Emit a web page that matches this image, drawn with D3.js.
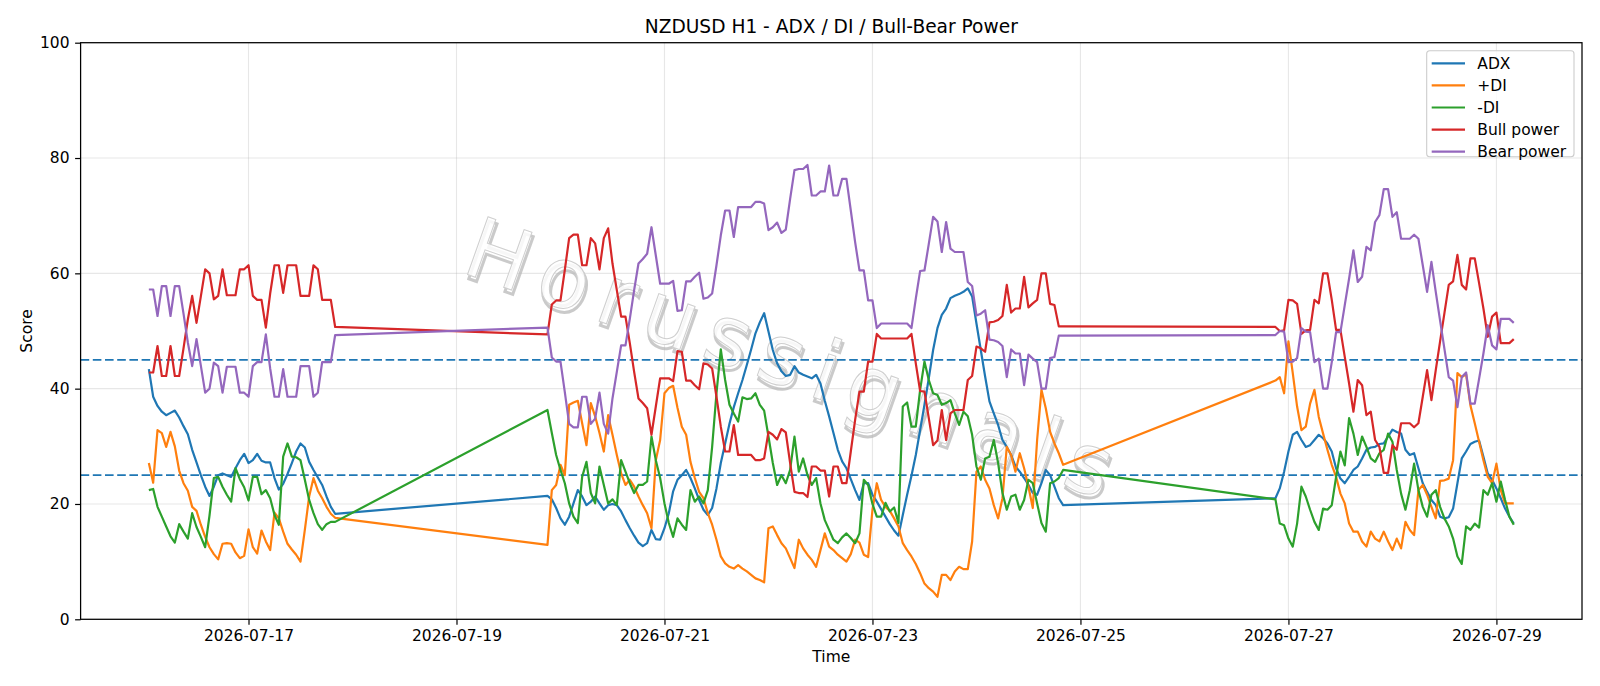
<!DOCTYPE html>
<html>
<head>
<meta charset="utf-8">
<title>NZDUSD H1 - ADX / DI / Bull-Bear Power</title>
<script src="https://cdn.jsdelivr.net/npm/d3@7"></script>
<style>
  body { margin: 0; background: #fff; }
  svg text { font-family: "DejaVu Sans", sans-serif; fill: #000; }
</style>
</head>
<body>
<svg id="chart" width="1600" height="686"></svg>
<script>
// trading sessions: first hourly bar and number of bars (weekends are skipped)
const sessions = [
  ["2026-07-16T01:00:00Z", 44],
  ["2026-07-19T21:00:00Z", 120],
  ["2026-07-26T21:00:00Z", 56]
];

const adx = [
  43.4, 38.6, 37.0, 36.0, 35.4, 35.8, 36.2, 35.0, 33.5, 32.1, 29.4, 27.2, 25.0, 23.0, 21.4, 23.0, 25.0, 25.3, 25.0, 24.7, 26.2, 27.6,
  28.7, 27.1, 27.6, 28.7, 27.5, 27.2, 27.2, 24.5, 22.5, 23.5, 25.2, 27.1, 29.1, 30.5, 29.8, 27.3, 25.9, 24.6, 23.3, 21.3, 19.5, 18.3,
  21.4, 20.8, 19.3, 17.5, 16.4, 17.8, 20.1, 22.4, 21.3, 19.8, 20.4, 21.3, 20.1, 19.0, 19.8, 20.0, 19.8, 18.7, 17.2, 15.8, 14.5, 13.3,
  12.7, 13.2, 15.5, 13.9, 13.8, 15.8, 18.4, 22.2, 24.2, 25.0, 25.9, 24.5, 22.7, 20.7, 19.0, 18.1, 19.3, 22.7, 27.1, 30.5, 33.9, 36.8,
  39.2, 41.5, 44.1, 46.8, 49.6, 51.5, 53.1, 49.9, 46.7, 44.4, 43.0, 42.2, 42.4, 43.9, 42.8, 42.4, 42.1, 41.8, 42.4, 40.9, 37.9, 35.2,
  32.3, 29.4, 27.4, 26.2, 24.3, 22.4, 20.7, 23.6, 23.6, 21.6, 20.4, 19.1, 17.8, 16.5, 15.4, 14.5, 18.1, 21.6, 24.9, 28.5, 32.8, 37.2,
  41.8, 46.7, 50.5, 52.8, 53.9, 55.7, 56.1, 56.4, 56.8, 57.4, 56.0, 51.3, 46.7, 42.1, 37.8, 35.7, 33.7, 31.1, 29.9, 28.5, 26.5, 25.6,
  24.5, 23.3, 21.9, 21.6, 23.6, 25.9, 25.0, 23.0, 21.0, 19.8,
  21.0, 22.7, 25.6, 29.1, 32.0, 32.5, 31.1, 29.9, 30.2, 31.1, 32.0, 31.4, 30.5, 29.1, 26.2, 24.4, 23.6, 24.7, 25.9, 26.5, 27.9, 29.4,
  29.8, 29.9, 30.4, 30.5, 31.7, 32.9, 32.5, 32.2, 29.4, 28.5, 28.8, 26.2, 23.6, 22.1, 20.7, 19.8, 17.8, 17.5, 17.7, 19.2, 23.6, 27.9,
  29.1, 30.4, 30.8, 31.0, 28.2, 25.3, 24.2, 22.7, 21.0, 19.2, 17.8, 16.6
];

const plusDI = [
  27.1, 23.7, 32.8, 32.3, 29.9, 32.5, 30.0, 25.8, 23.6, 22.3, 19.5, 18.8, 16.4, 14.3, 12.5, 11.3, 10.4, 13.1, 13.2, 13.1, 11.6, 10.6,
  11.0, 15.6, 12.5, 11.4, 15.4, 13.5, 12.0, 18.5, 17.5, 15.2, 13.1, 12.1, 11.2, 10.0, 15.5, 21.3, 24.5, 22.3, 21.0, 19.5, 18.3, 17.6,
  12.9, 22.4, 23.3, 26.8, 25.0, 37.2, 37.6, 37.9, 34.0, 30.2, 37.5, 35.2, 32.3, 29.1, 35.4, 32.0, 28.5, 25.3, 23.3, 24.2, 23.0, 21.3,
  19.8, 18.4, 15.8, 27.6, 31.1, 39.2, 40.1, 40.5, 36.7, 33.4, 32.0, 27.3, 24.5, 22.1, 21.0, 18.4, 16.4, 13.8, 10.9, 9.7, 9.1, 8.8,
  9.4, 8.8, 8.3, 7.7, 7.1, 6.8, 6.4, 15.8, 16.1, 14.6, 13.2, 12.3, 10.6, 8.9, 13.8, 12.3, 11.2, 10.3, 9.1, 12.0, 14.9, 12.6,
  12.0, 11.2, 10.6, 10.0, 11.3, 13.8, 13.3, 11.2, 10.8, 19.0, 23.6, 20.7, 19.5, 18.8, 17.5, 16.1, 13.2, 12.0, 10.9, 9.6, 8.0, 6.2,
  5.4, 4.8, 3.9, 7.7, 7.7, 6.8, 8.3, 9.1, 8.7, 8.7, 13.5, 25.6, 26.5, 24.2, 22.7, 19.8, 17.5, 21.0, 29.9, 28.5, 25.6, 28.8,
  26.2, 23.0, 19.3, 31.1, 39.8, 36.6, 32.5, 30.5, 28.8, 26.8,
  41.4, 42.0, 39.2, 48.2, 42.7, 36.9, 32.8, 33.4, 37.4, 39.8, 35.1, 32.2, 29.4, 26.8, 24.7, 21.8, 20.1, 16.6, 15.2, 15.2, 13.5, 12.6,
  15.2, 14.0, 13.5, 15.2, 13.5, 12.0, 14.0, 12.3, 16.9, 15.5, 14.6, 22.4, 23.3, 21.6, 19.5, 17.5, 24.0, 24.1, 24.4, 27.6, 42.7, 42.0,
  42.5, 37.1, 34.0, 30.8, 27.6, 24.7, 23.6, 27.0, 22.4, 20.1, 20.1, 20.1
];

const minusDI = [
  22.4, 22.6, 19.5, 17.8, 16.1, 14.4, 13.3, 16.5, 15.2, 14.0, 18.4, 16.0, 14.3, 12.5, 18.0, 24.5, 24.7, 23.0, 21.6, 20.4, 26.2, 24.3,
  22.9, 20.6, 24.7, 24.7, 21.7, 22.4, 21.0, 18.1, 16.4, 28.2, 30.5, 28.2, 28.1, 27.6, 24.2, 20.7, 18.4, 16.5, 15.5, 16.5, 16.9, 16.9,
  36.3, 32.3, 28.5, 25.9, 23.6, 20.1, 17.8, 16.7, 24.7, 27.3, 21.9, 20.1, 26.5, 23.3, 20.1, 20.8, 19.8, 27.6, 25.6, 23.6, 21.9, 23.3,
  23.3, 23.9, 31.7, 27.6, 24.5, 20.1, 16.7, 14.3, 17.5, 16.4, 15.5, 22.4, 20.4, 21.3, 20.1, 22.4, 29.9, 39.2, 46.8, 41.5, 37.2, 35.7,
  34.3, 38.5, 38.2, 38.3, 39.2, 37.2, 36.2, 31.7, 27.1, 23.3, 25.0, 23.6, 25.9, 31.7, 25.6, 27.9, 25.0, 23.3, 24.5, 20.1, 17.2, 15.5,
  13.8, 13.2, 14.2, 14.9, 14.1, 13.2, 14.9, 24.2, 23.3, 20.0, 17.8, 17.8, 20.2, 18.7, 19.4, 16.7, 36.9, 37.6, 33.4, 33.4, 39.8, 44.7,
  41.5, 39.2, 38.9, 37.2, 37.5, 38.0, 35.7, 33.7, 36.0, 35.2, 32.0, 26.5, 24.2, 27.9, 28.2, 31.1, 27.1, 21.9, 19.0, 21.3, 21.6, 19.0,
  20.7, 24.2, 23.6, 20.1, 16.7, 15.2, 23.6, 23.9, 24.5, 25.9,
  20.8, 16.6, 16.3, 14.0, 12.6, 16.6, 23.0, 21.3, 19.0, 16.9, 15.5, 19.2, 19.0, 19.8, 24.7, 29.1, 26.7, 34.9, 32.2, 28.5, 31.7, 29.9,
  27.9, 27.3, 28.8, 29.4, 32.2, 30.8, 25.9, 21.8, 19.0, 22.4, 27.0, 22.4, 19.5, 17.8, 21.6, 22.4, 19.5, 17.5, 16.1, 14.0, 10.9, 9.6,
  16.1, 15.5, 16.6, 15.9, 22.4, 21.6, 23.6, 20.4, 23.9, 20.7, 17.8, 16.4
];

const bullPower = [
  42.8, 42.8, 47.4, 42.2, 42.2, 47.4, 42.2, 42.2, 47.0, 52.0, 56.1, 51.4, 56.0, 60.7, 60.0, 55.5, 56.1, 60.7, 56.2, 56.2, 56.2, 60.7,
  60.7, 61.4, 56.1, 55.4, 55.4, 50.6, 56.5, 61.4, 61.4, 56.6, 61.4, 61.4, 61.4, 56.1, 56.1, 56.1, 61.4, 60.7, 55.4, 55.4, 55.4, 50.7,
  49.4, 54.6, 55.3, 55.3, 60.6, 66.1, 66.7, 66.7, 61.4, 61.4, 66.1, 65.2, 60.7, 66.1, 67.8, 61.7, 57.1, 52.5, 52.5, 47.9, 42.9, 38.3,
  37.5, 36.6, 32.0, 36.9, 41.8, 41.8, 41.8, 41.3, 46.5, 46.4, 41.4, 41.4, 40.6, 39.9, 44.4, 44.2, 43.5, 38.6, 33.4, 29.1, 29.1, 33.7,
  28.5, 28.5, 28.5, 28.5, 27.6, 27.6, 27.9, 32.5, 32.0, 31.2, 33.0, 32.4, 27.1, 22.1, 21.9, 21.9, 21.2, 26.5, 26.5, 25.8, 25.8, 21.3,
  26.5, 26.5, 23.6, 23.6, 29.1, 34.6, 39.5, 39.5, 44.7, 44.7, 49.5, 48.7, 48.7, 48.7, 48.7, 48.7, 48.7, 48.7, 49.5, 44.4, 39.6, 39.5,
  34.9, 30.2, 31.0, 36.3, 31.1, 35.7, 36.3, 36.3, 36.3, 41.5, 42.2, 47.3, 47.0, 46.4, 51.5, 51.6, 51.9, 52.6, 58.0, 53.2, 53.9, 53.9,
  59.4, 54.1, 54.8, 55.4, 60.0, 60.0, 54.7, 54.5, 50.8, 50.8,
  50.7, 50.0, 50.1, 55.4, 55.3, 54.7, 49.5, 50.1, 50.2, 55.4, 54.8, 60.0, 60.0, 55.4, 50.2, 50.2, 45.5, 40.9, 36.0, 41.5, 40.6, 35.4,
  36.0, 31.1, 29.9, 25.4, 25.4, 30.2, 29.4, 34.0, 34.0, 34.0, 33.3, 34.0, 38.6, 43.2, 38.0, 43.2, 48.2, 53.1, 58.0, 58.6, 63.2, 58.0,
  57.2, 62.6, 62.6, 58.3, 53.9, 49.0, 52.5, 53.2, 47.9, 47.9, 47.9, 48.6
];

const bearPower = [
  57.2, 57.2, 52.6, 57.8, 57.8, 52.6, 57.8, 57.8, 53.0, 48.0, 43.9, 48.6, 44.0, 39.3, 40.0, 44.5, 43.9, 39.3, 43.8, 43.8, 43.8, 39.3,
  39.3, 38.6, 43.9, 44.6, 44.6, 49.4, 43.5, 38.6, 38.6, 43.4, 38.6, 38.6, 38.6, 43.9, 43.9, 43.9, 38.6, 39.3, 44.6, 44.6, 44.6, 49.3,
  50.6, 45.4, 44.7, 44.7, 39.4, 33.9, 33.3, 33.3, 38.6, 38.6, 33.9, 34.8, 39.3, 33.9, 32.2, 38.3, 42.9, 47.5, 47.5, 52.1, 57.1, 61.7,
  62.5, 63.4, 68.0, 63.1, 58.2, 58.2, 58.2, 58.7, 53.5, 53.6, 58.6, 58.6, 59.4, 60.1, 55.6, 55.8, 56.5, 61.4, 66.6, 70.9, 70.9, 66.3,
  71.5, 71.5, 71.5, 71.5, 72.4, 72.4, 72.1, 67.5, 68.0, 68.8, 67.0, 67.6, 72.9, 77.9, 78.1, 78.1, 78.8, 73.5, 73.5, 74.2, 74.2, 78.7,
  73.5, 73.5, 76.4, 76.4, 70.9, 65.4, 60.5, 60.5, 55.3, 55.3, 50.5, 51.3, 51.3, 51.3, 51.3, 51.3, 51.3, 51.3, 50.5, 55.6, 60.4, 60.5,
  65.1, 69.8, 69.0, 63.7, 68.9, 64.3, 63.7, 63.7, 63.7, 58.5, 57.8, 52.7, 53.0, 53.6, 48.5, 48.4, 48.1, 47.4, 42.0, 46.8, 46.1, 46.1,
  40.6, 45.9, 45.2, 44.6, 40.0, 40.0, 45.3, 45.5, 49.2, 49.2,
  49.3, 50.0, 49.9, 44.6, 44.7, 45.3, 50.5, 49.9, 49.8, 44.6, 45.2, 40.0, 40.0, 44.6, 49.8, 49.8, 54.5, 59.1, 64.0, 58.5, 59.4, 64.6,
  64.0, 68.9, 70.1, 74.6, 74.6, 69.8, 70.6, 66.0, 66.0, 66.0, 66.7, 66.0, 61.4, 56.8, 62.0, 56.8, 51.8, 46.9, 42.0, 41.4, 36.8, 42.0,
  42.8, 37.4, 37.4, 41.7, 46.1, 51.0, 47.5, 46.8, 52.1, 52.1, 52.1, 51.4
];

const seriesNames = ["ADX", "+DI", "-DI", "Bull power", "Bear power"];
const seriesColors = ["#1f77b4", "#ff7f0e", "#2ca02c", "#d62728", "#9467bd"];
const seriesValues = [adx, plusDI, minusDI, bullPower, bearPower];

const thresholds = [25, 45];
const xTickLabels = ["2026-07-17", "2026-07-19", "2026-07-21", "2026-07-23", "2026-07-25", "2026-07-27", "2026-07-29"];
const yTickLabels = [0, 20, 40, 60, 80, 100];

// hourly timestamps
const times = [];
sessions.forEach(([start, n]) => {
  const t0 = new Date(start);
  for (let i = 0; i < n; i++) times.push(d3.utcHour.offset(t0, i));
});

const plot = { left: 80.6, right: 1582, top: 42.7, bottom: 619.3 };

const svg = d3.select("#chart");

// matplotlib style 5% margin on the time axis
const [tMin, tMax] = d3.extent(times);
const pad = (tMax - tMin) * 0.05;
const x = d3.scaleUtc()
  .domain([new Date(+tMin - pad), new Date(+tMax + pad)])
  .range([plot.left, plot.right]);
const y = d3.scaleLinear().domain([0, 100]).range([plot.bottom, plot.top]);

const xTicks = xTickLabels.map((s) => new Date(s + "T00:00:00Z"));

// grid
const grid = svg.append("g").attr("stroke", "#b0b0b0").attr("stroke-opacity", 0.3).attr("stroke-width", 1.1);
grid.selectAll(".gx").data(xTicks).enter().append("line")
  .attr("x1", (d) => x(d)).attr("x2", (d) => x(d))
  .attr("y1", plot.top).attr("y2", plot.bottom);
grid.selectAll(".gy").data(yTickLabels).enter().append("line")
  .attr("x1", plot.left).attr("x2", plot.right)
  .attr("y1", (d) => y(d)).attr("y2", (d) => y(d));

// watermark: thin outlined letters with a soft grey shadow
const wm = svg.append("g")
  .attr("transform", "translate(790,358) rotate(19.5)")
  .style("pointer-events", "none");
wm.append("text")
  .attr("x", 2.5).attr("y", 3.5)
  .attr("text-anchor", "middle").attr("dominant-baseline", "central")
  .attr("textLength", 680).attr("lengthAdjust", "spacing")
  .style("font-size", "84px")
  .style("fill", "none")
  .style("stroke", "#b4b4b4").style("stroke-opacity", 0.7).style("stroke-width", 3)
  .text("Horussignals");
wm.append("text")
  .attr("text-anchor", "middle").attr("dominant-baseline", "central")
  .attr("textLength", 680).attr("lengthAdjust", "spacing")
  .style("font-size", "84px")
  .style("fill", "#ffffff").style("fill-opacity", 0.85)
  .style("stroke", "#cfcfcf").style("stroke-width", 1)
  .text("Horussignals");

// reference levels
svg.append("g").selectAll("line").data(thresholds).enter().append("line")
  .attr("x1", plot.left).attr("x2", plot.right)
  .attr("y1", (d) => y(d)).attr("y2", (d) => y(d))
  .attr("stroke", "#1f77b4").attr("stroke-width", 1.8)
  .attr("stroke-dasharray", "8.6,3.6");

// series lines
const line = d3.line().x((d, i) => x(times[i])).y((d) => y(d));
svg.append("g").selectAll("path").data(seriesValues).enter().append("path")
  .attr("d", (d) => line(d))
  .attr("fill", "none")
  .attr("stroke", (d, i) => seriesColors[i])
  .attr("stroke-width", 2.2)
  .attr("stroke-linejoin", "round");

// axes
const xAxis = svg.append("g")
  .attr("transform", `translate(0,${plot.bottom})`)
  .call(d3.axisBottom(x).tickValues(xTicks).tickFormat(d3.utcFormat("%Y-%m-%d")).tickSize(5.5).tickPadding(5.5));
const yAxis = svg.append("g")
  .attr("transform", `translate(${plot.left},0)`)
  .call(d3.axisLeft(y).tickValues(yTickLabels).tickSize(5.5).tickPadding(5.5));
[xAxis, yAxis].forEach((a) => {
  a.select(".domain").remove();
  a.selectAll(".tick line").attr("stroke", "#000").attr("stroke-width", 1.2);
  a.selectAll(".tick text").style("font-size", "15.5px").style("font-family", "DejaVu Sans, sans-serif");
});

// frame
svg.append("rect")
  .attr("x", plot.left).attr("y", plot.top)
  .attr("width", plot.right - plot.left).attr("height", plot.bottom - plot.top)
  .attr("fill", "none").attr("stroke", "#000").attr("stroke-width", 1.25);

// title and labels
svg.append("text")
  .attr("x", (plot.left + plot.right) / 2).attr("y", 33)
  .attr("text-anchor", "middle").style("font-size", "18.6px")
  .text("NZDUSD H1 - ADX / DI / Bull-Bear Power");
svg.append("text")
  .attr("x", (plot.left + plot.right) / 2).attr("y", 662)
  .attr("text-anchor", "middle").style("font-size", "15.5px")
  .text("Time");
svg.append("text")
  .attr("transform", `translate(31.5,${(plot.top + plot.bottom) / 2}) rotate(-90)`)
  .attr("text-anchor", "middle").style("font-size", "15.5px")
  .text("Score");

// legend
const lg = svg.append("g").attr("transform", "translate(1426.7,50.7)");
lg.append("rect")
  .attr("width", 147.3).attr("height", 106).attr("rx", 3)
  .attr("fill", "#fff").attr("fill-opacity", 0.8)
  .attr("stroke", "#cccccc").attr("stroke-width", 1.1);
const item = lg.selectAll(".item").data(seriesNames).enter().append("g")
  .attr("transform", (d, i) => `translate(0,${12.6 + i * 22.1})`);
item.append("line")
  .attr("x1", 5).attr("x2", 38.3)
  .attr("stroke", (d, i) => seriesColors[i]).attr("stroke-width", 2.2);
item.append("text")
  .attr("x", 50.6).attr("dy", "0.35em")
  .style("font-size", "15.5px")
  .text((d) => d);
</script>
</body>
</html>
